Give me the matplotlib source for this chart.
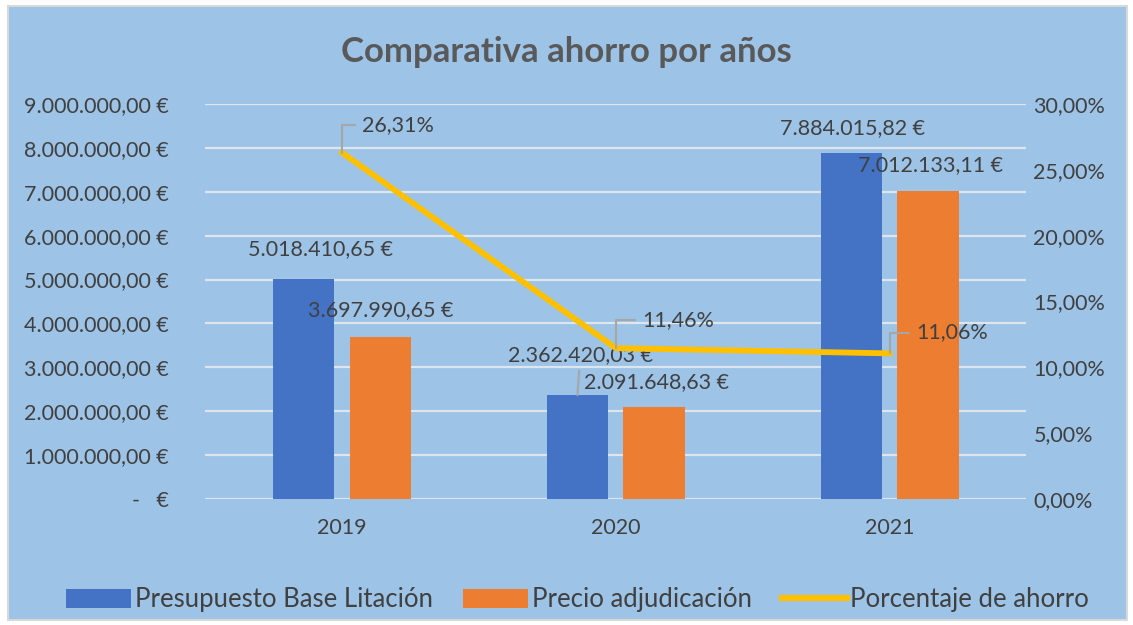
import matplotlib.pyplot as plt
import numpy as np
from matplotlib.patches import Rectangle, Patch
from matplotlib.lines import Line2D
from matplotlib.ticker import FuncFormatter

plt.rcParams['font.family'] = ['Lato', 'DejaVu Sans']

years = ['2019', '2020', '2021']
presupuesto = [5018410.65, 2362420.03, 7884015.82]
adjudicacion = [3697990.65, 2091648.63, 7012133.11]
ahorro = [26.31, 11.46, 11.06]

# label offsets in points (dx, dy)
pres_offsets = [(12, 21), (2, 29), (1, 18)]
adj_offsets = [(0, 19), (2, 18), (2, 19)]
pct_offsets = [(40, 20), (45, 20), (45, 15)]

BG = '#9DC3E6'
BLUE = '#4472C4'
ORANGE = '#ED7D31'
YELLOW = '#FFC000'
TXT = '#404040'
GRID = '#DDE6EF'
LEADER = '#A6A6A6'


def euro(v):
    s = f'{v:,.2f}'
    s = s.replace(',', 'X').replace('.', ',').replace('X', '.')
    return s + ' €'


def euro_tick(v, pos):
    if abs(v) < 1e-6:
        return '-   €'
    return euro(v)


def pct(v):
    return f'{v:.2f}%'.replace('.', ',')


fig = plt.figure(figsize=(11.33, 6.25), dpi=100)
fig.patch.set_facecolor('white')
fig.patches.append(Rectangle((8 / 1133, 5 / 625), 1119 / 1133, 614 / 625,
                             transform=fig.transFigure, facecolor=BG,
                             edgecolor='#D9D9D9', linewidth=1.5, zorder=-10))

ax = fig.add_axes([0.181, 0.2016, 0.725, 0.632])
ax.set_facecolor('none')
ax2 = ax.twinx()

x = np.arange(len(years))
w = 0.224
off = 0.14
ax.bar(x - off, presupuesto, w, color=BLUE, zorder=3)
ax.bar(x + off, adjudicacion, w, color=ORANGE, zorder=3)

ax.set_xlim(-0.5, 2.5)
ax.set_ylim(0, 9000000)
ax.set_yticks(np.arange(0, 9000001, 1000000))
ax.yaxis.set_major_formatter(FuncFormatter(euro_tick))
ax.set_xticks(x)
ax.set_xticklabels(years)
ax.grid(axis='y', color=GRID, linewidth=1.6, zorder=0)
ax.set_axisbelow(True)
for a in (ax, ax2):
    for s in a.spines.values():
        s.set_visible(False)
    a.tick_params(length=0, labelsize=15.5, colors=TXT)
ax.tick_params(axis='y', pad=26)
ax.tick_params(axis='x', pad=14)

ax2.set_ylim(0, 30)
ax2.set_yticks(np.arange(0, 31, 5))
ax2.yaxis.set_major_formatter(FuncFormatter(lambda v, p: pct(v)))
ax2.tick_params(axis='y', pad=5)
ax2.plot(x, ahorro, color=YELLOW, linewidth=4.2, zorder=4)

for i in range(len(years)):
    ax.annotate(euro(presupuesto[i]), xy=(x[i] - off, presupuesto[i]),
                xytext=pres_offsets[i], textcoords='offset points',
                ha='center', va='center', fontsize=15.5, color=TXT, zorder=6,
                arrowprops=dict(arrowstyle='-', color=LEADER, lw=1.5,
                                shrinkA=2, shrinkB=0) if i == 1 else None)
    ax.annotate(euro(adjudicacion[i]), xy=(x[i] + off, adjudicacion[i]),
                xytext=adj_offsets[i], textcoords='offset points',
                ha='center', va='center', fontsize=15.5, color=TXT, zorder=6)
    ax2.annotate(pct(ahorro[i]), xy=(x[i], ahorro[i]),
                 xytext=pct_offsets[i], textcoords='offset points',
                 ha='center', va='center', fontsize=15.5, color=TXT, zorder=6,
                 arrowprops=dict(arrowstyle='-', color=LEADER, lw=1.5,
                                 shrinkA=3, shrinkB=0,
                                 connectionstyle='angle,angleA=0,angleB=90,rad=0'))

fig.text(0.5, 0.917, 'Comparativa ahorro por años', ha='center', va='center',
         fontsize=25, fontweight='bold', color='#595959')

handles = [Patch(facecolor=BLUE), Patch(facecolor=ORANGE),
           Line2D([0], [0], color=YELLOW, linewidth=4.5)]
labels = ['Presupuesto Base Litación', 'Precio adjudicación', 'Porcentaje de ahorro']
fig.legend(handles, labels, loc='center', bbox_to_anchor=(0.51, 0.04), ncol=3,
           frameon=False, fontsize=18.5, labelcolor=TXT, handlelength=2.5,
           handleheight=0.75, handletextpad=0.15, columnspacing=1.2)

fig.savefig('out.png', dpi=100, facecolor=fig.get_facecolor())
